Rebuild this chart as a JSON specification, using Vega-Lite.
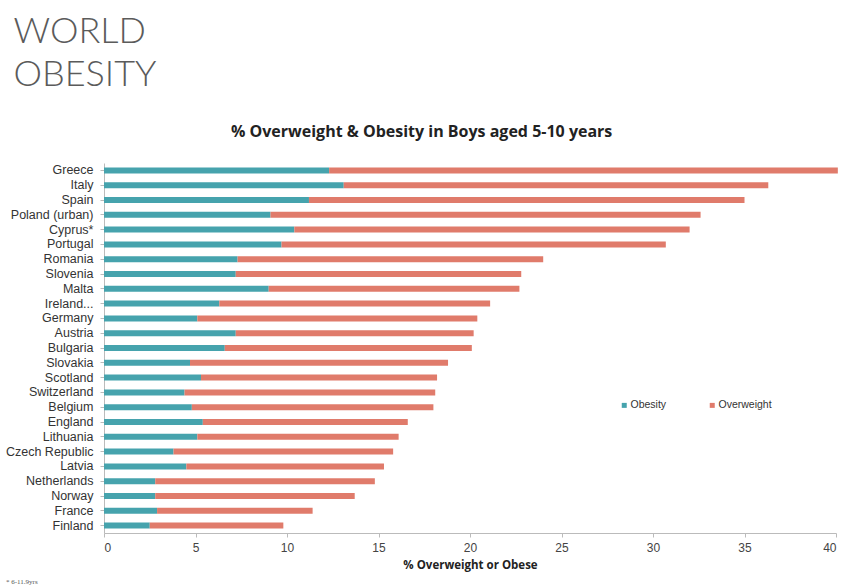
{
  "$schema": "https://vega.github.io/schema/vega-lite/v6.json",
  "padding": {"left": 5, "top": 14, "right": 2, "bottom": 2},
  "title": {
    "text": ["WORLD", "OBESITY"],
    "anchor": "start",
    "frame": "bounds",
    "font": "Lato",
    "fontWeight": 300,
    "fontSize": 36,
    "lineHeight": 43,
    "color": "#5b5b5b",
    "offset": 29.5,
    "dx": 8
  },
  "config": {"view": {"stroke": null}, "font": "Liberation Sans"},
  "spacing": 7,
  "vconcat": [
    {
      "width": 732,
      "height": 370,
      "title": {
        "text": "% Overweight & Obesity in Boys aged 5-10 years",
        "frame": "bounds",
        "anchor": "middle",
        "font": "Open Sans",
        "fontSize": 16,
        "fontWeight": "bold",
        "color": "#222222",
        "offset": 23.5
      },
      "data": {
        "values": [
          {"country": "Greece", "Obesity": 12.3, "Overweight": 27.8},
          {"country": "Italy", "Obesity": 13.1, "Overweight": 23.2},
          {"country": "Spain", "Obesity": 11.2, "Overweight": 23.8},
          {"country": "Poland (urban)", "Obesity": 9.1, "Overweight": 23.5},
          {"country": "Cyprus*", "Obesity": 10.4, "Overweight": 21.6},
          {"country": "Portugal", "Obesity": 9.7, "Overweight": 21.0},
          {"country": "Romania", "Obesity": 7.3, "Overweight": 16.7},
          {"country": "Slovenia", "Obesity": 7.2, "Overweight": 15.6},
          {"country": "Malta", "Obesity": 9.0, "Overweight": 13.7},
          {"country": "Ireland...", "Obesity": 6.3, "Overweight": 14.8},
          {"country": "Germany", "Obesity": 5.1, "Overweight": 15.3},
          {"country": "Austria", "Obesity": 7.2, "Overweight": 13.0},
          {"country": "Bulgaria", "Obesity": 6.6, "Overweight": 13.5},
          {"country": "Slovakia", "Obesity": 4.7, "Overweight": 14.1},
          {"country": "Scotland", "Obesity": 5.3, "Overweight": 12.9},
          {"country": "Switzerland", "Obesity": 4.4, "Overweight": 13.7},
          {"country": "Belgium", "Obesity": 4.8, "Overweight": 13.2},
          {"country": "England", "Obesity": 5.4, "Overweight": 11.2},
          {"country": "Lithuania", "Obesity": 5.1, "Overweight": 11.0},
          {"country": "Czech Republic", "Obesity": 3.8, "Overweight": 12.0},
          {"country": "Latvia", "Obesity": 4.5, "Overweight": 10.8},
          {"country": "Netherlands", "Obesity": 2.8, "Overweight": 12.0},
          {"country": "Norway", "Obesity": 2.8, "Overweight": 10.9},
          {"country": "France", "Obesity": 2.9, "Overweight": 8.5},
          {"country": "Finland", "Obesity": 2.5, "Overweight": 7.3}
        ]
      },
      "transform": [{"fold": ["Obesity", "Overweight"], "as": ["type", "value"]}],
      "mark": {"type": "bar", "size": 6},
      "encoding": {
        "y": {
          "field": "country",
          "type": "nominal",
          "sort": null,
          "title": null,
          "scale": {"paddingInner": 0, "paddingOuter": 0},
          "axis": {
            "domain": true,
            "domainColor": "#bbbbbb",
            "ticks": true,
            "tickColor": "#bbbbbb",
            "tickSize": 4,
            "labelPadding": 7,
            "labelFont": "Liberation Sans",
            "labelFontSize": 12.5,
            "labelColor": "#333333"
          }
        },
        "x": {
          "field": "value",
          "type": "quantitative",
          "stack": "zero",
          "scale": {"domain": [0, 40], "nice": false},
          "axis": {
            "values": [0, 5, 10, 15, 20, 25, 30, 35, 40],
            "title": "% Overweight or Obese",
            "grid": false,
            "domainColor": "#bbbbbb",
            "tickColor": "#bbbbbb",
            "tickSize": 4,
            "labelPadding": 5,
            "labelFont": "Liberation Sans",
            "labelFontSize": 12,
            "labelColor": "#444444",
            "titleFont": "Open Sans",
            "titleFontSize": 11.5,
            "titleFontWeight": "bold",
            "titleColor": "#222222",
            "titlePadding": 6
          }
        },
        "color": {
          "field": "type",
          "type": "nominal",
          "scale": {"domain": ["Obesity", "Overweight"], "range": ["#46a3ad", "#e07b6b"]},
          "legend": {
            "title": null,
            "orient": "none",
            "legendX": 515,
            "legendY": 237,
            "direction": "horizontal",
            "symbolType": "square",
            "symbolSize": 25,
            "symbolStrokeWidth": 0,
            "labelFont": "Liberation Sans",
            "labelFontSize": 10.5,
            "labelColor": "#333333",
            "labelOffset": 1,
            "columnPadding": 40
          }
        }
      }
    },
    {
      "width": 100,
      "height": 8,
      "data": {"values": [{"note": "* 6-11.9yrs"}]},
      "mark": {"type": "text", "align": "left", "baseline": "middle", "font": "Liberation Sans Narrow", "fontSize": 7, "color": "#555555"},
      "encoding": {
        "text": {"field": "note", "type": "nominal"},
        "x": {"value": -98},
        "y": {"value": 4}
      }
    }
  ]
}
